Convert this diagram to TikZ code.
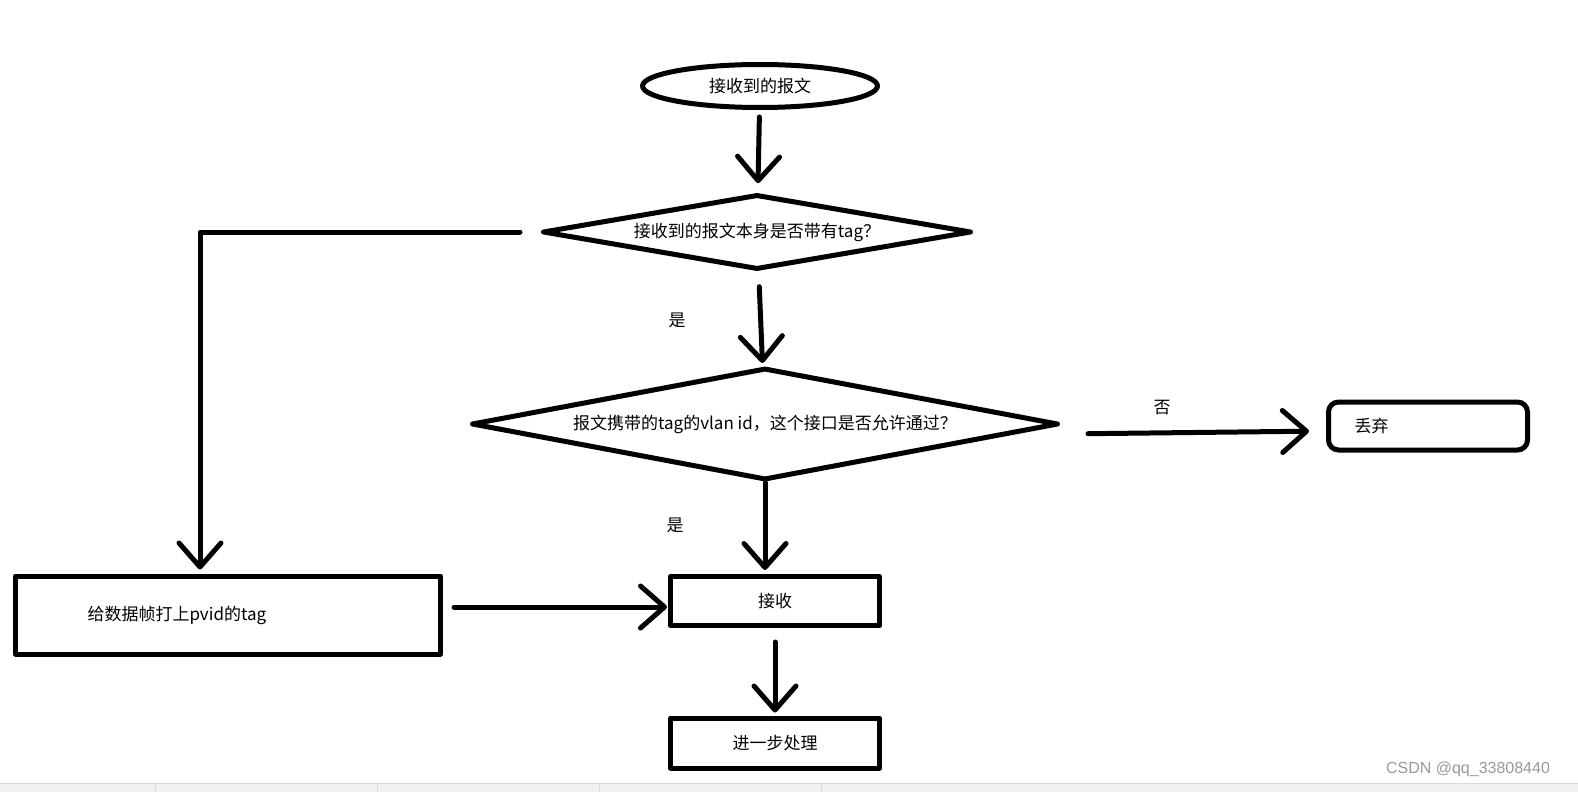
\documentclass[tikz,border=0pt]{standalone}
\usepackage{fontspec}
\setmainfont{Noto Sans CJK SC}
\newfontfamily\markfont{Liberation Sans}
\usetikzlibrary{shapes.geometric, arrows.meta, positioning}

\tikzset{
  flow/.style={line width=5pt, line cap=round, line join=round},
  arr/.style={flow, -{Straight Barb[length=24pt, width=42pt, round]}},
  decide/.style={draw, diamond, flow, inner sep=0pt},
  procbox/.style={draw, rectangle, flow},
}

\begin{document}
\begin{tikzpicture}[x=1pt, y=-1pt, font=\fontsize{17}{20}\selectfont]
            \useasboundingbox (0,0) rectangle (1578,792);

            % window strip at the bottom
            \fill[black!6] (0,783) rectangle (1578,792);
            \draw[black!15] (0,783) -- (1578,783);
            \foreach \x in {155,377,599,821}
                \draw[black!15] (\x,784) -- (\x,792);

            \node[draw, ellipse, flow, minimum width=235pt, minimum height=43pt] (recv) at (760,86) {接收到的报文};
            \node[decide, minimum width=429pt, minimum height=75pt, aspect=5.7] (tagq) at (757,232) {接收到的报文本身是否带有tag？};
            \node[decide, minimum width=587pt, minimum height=112pt, aspect=5.2] (vlanq) at (765,424) {报文携带的tag的vlan id，这个接口是否允许通过？};
            \node[draw, flow, rounded corners=10pt, minimum height=48pt, text width=147pt, inner xsep=26pt, align=left] (drop) at (1428,426) {\raisebox{-5pt}{丢弃}};
            \node[procbox, minimum height=78pt, text width=281pt, inner xsep=72pt, align=left] (addtag) at (228,615) {给数据帧打上pvid的tag};
            \node[procbox, minimum width=209pt, minimum height=49pt] (accept) at (775,601) {接收};
            \node[procbox, minimum width=209pt, minimum height=50pt] (proc) at (775,743) {进一步处理};

            \node (yes1) at (677,320) {是};
            \node (yes2) at (675,525) {是};
            \node (no1) at (1162,408) {否};

            \path[arr]
            (recv) edge [shorten <=7pt, shorten >=9pt] (tagq)
            (tagq) edge [shorten <=15pt, shorten >=3pt] (vlanq)
            (vlanq.south) edge [shorten >=4pt] (vlanq.south |- accept.north)
            ([yshift=-10pt]vlanq.east) edge [shorten <=27pt, shorten >=17pt] ([yshift=-5pt]drop.west)
            ([yshift=8pt]addtag.east) edge [shorten <=11pt, shorten >=1pt] ([yshift=-6pt]accept.west)
            (accept) edge [shorten <=14pt, shorten >=3pt] (proc)
            ;
            \draw[arr, shorten <=20pt, shorten >=4pt] (tagq.west) -| ([xshift=-28pt]addtag.north);

            \node[font=\markfont\fontsize{16}{18}\selectfont, text=black!40] (mark) at (1468,769) {CSDN @qq\_33808440};
        \end{tikzpicture}
\end{document}
